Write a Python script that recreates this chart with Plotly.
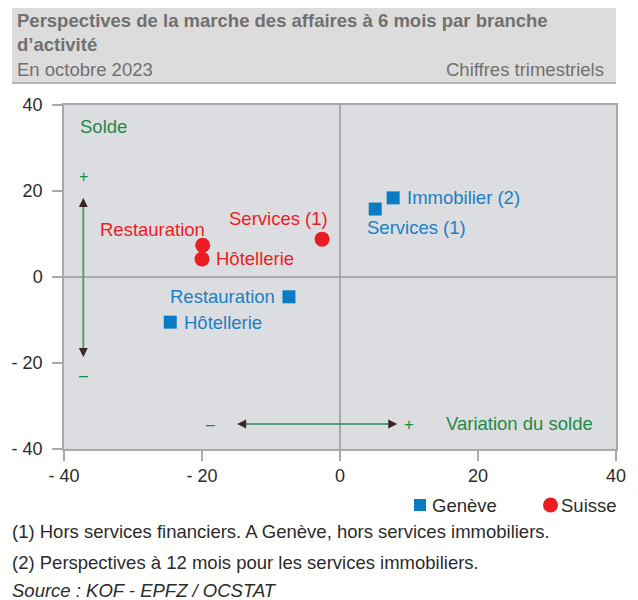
import plotly.graph_objects as go

# ---- data ----
geneve_labels = ["Immobilier (2)", "Services (1)", "Restauration", "Hôtellerie"]
geneve_x = [7.7, 5.1, -7.4, -24.6]
geneve_y = [18.4, 15.8, -4.6, -10.5]

suisse_labels = ["Restauration", "Hôtellerie", "Services (1)"]
suisse_x = [-19.9, -20.0, -2.6]
suisse_y = [7.4, 4.2, 8.8]

tick_vals = [-40, -20, 0, 20, 40]
tick_text = ["- 40", "- 20", "0", "20", "40"]

title_text = "Perspectives de la marche des affaires à 6 mois par branche<br>d’activité"
subtitle_left = "En octobre 2023"
subtitle_right = "Chiffres trimestriels"
footnotes = [
    "(1) Hors services financiers. A Genève, hors services immobiliers.",
    "(2) Perspectives à 12 mois pour les services immobiliers.",
    "<i>Source : KOF - EPFZ / OCSTAT</i>",
]

# ---- styles ----
FONT = "Liberation Sans, Arial, sans-serif"
BLUE = "#0b7cc4"
BLUE_TXT = "#1a80c6"
RED = "#ec1c24"
GREEN = "#1d8a48"
GRAY_TXT = "#707070"
BG = "#dcdde0"
FS = 18.5

# the page body has an 8px margin: figure is sized so the window shows it like the reference
OFF = 8
W, H = 630, 592
L, T = 56, 97
R, B = W - 608, H - 441
PW, PH = W - L - R, H - T - B


def px_x(px):  # window pixel -> paper x
    return (px - OFF - L) / PW


def px_y(py):  # window pixel -> paper y
    return (H - B - (py - OFF)) / PH


fig = go.Figure()
fig.add_trace(go.Scatter(
    x=geneve_x, y=geneve_y, mode="markers", name="Genève",
    marker=dict(symbol="square", size=13, color=BLUE),
    hoverinfo="skip",
))
fig.add_trace(go.Scatter(
    x=suisse_x, y=suisse_y, mode="markers", name="Suisse",
    marker=dict(symbol="circle", size=15, color=RED),
    hoverinfo="skip",
))

annotations = []
g_pos = {
    "Immobilier (2)": ("left", 12, 0),
    "Services (1)": ("left", -10, -18),
    "Restauration": ("right", -12, 0),
    "Hôtellerie": ("left", 12, 0),
}
s_pos = {
    "Restauration": ("right", 4, 16),
    "Hôtellerie": ("left", 12, 0),
    "Services (1)": ("right", 8, 21),
}
for lab, x, y in zip(geneve_labels, geneve_x, geneve_y):
    a, xs, ys = g_pos[lab]
    annotations.append(dict(x=x, y=y, text=lab, showarrow=False, xanchor=a,
                            yanchor="middle", xshift=xs, yshift=ys,
                            font=dict(size=FS, color=BLUE_TXT, family=FONT)))
for lab, x, y in zip(suisse_labels, suisse_x, suisse_y):
    a, xs, ys = s_pos[lab]
    annotations.append(dict(x=x, y=y, text=lab, showarrow=False, xanchor=a,
                            yanchor="middle", xshift=xs, yshift=ys,
                            font=dict(size=FS, color=RED, family=FONT)))

annotations += [
    dict(x=-37.9, y=34.9, text="Solde", showarrow=False, xanchor="left", yanchor="middle",
         font=dict(size=FS, color=GREEN, family=FONT)),
    dict(x=-37.2, y=23.3, text="+", showarrow=False, xanchor="center", yanchor="middle",
         font=dict(size=16, color=GREEN, family=FONT)),
    dict(x=-37.2, y=-22.8, text="–", showarrow=False, xanchor="center", yanchor="middle",
         font=dict(size=16, color=GREEN, family=FONT)),
    dict(x=-18.8, y=-34.2, text="–", showarrow=False, xanchor="center", yanchor="middle",
         font=dict(size=16, color=GREEN, family=FONT)),
    dict(x=10.0, y=-34.2, text="+", showarrow=False, xanchor="center", yanchor="middle",
         font=dict(size=17, color=GREEN, family=FONT)),
    dict(x=15.0, y=-34.0, text="Variation du solde", showarrow=False, xanchor="left",
         yanchor="middle", font=dict(size=FS, color=GREEN, family=FONT)),
]

HEAD = "#3b2626"
for (x, y, ax, ay) in [(-37.2, 18.4, 0, 4), (-37.2, -18.6, 0, -4),
                       (-14.9, -34.2, 4, 0), (8.3, -34.2, -4, 0)]:
    annotations.append(dict(x=x, y=y, ax=ax, ay=ay, axref="pixel", ayref="pixel",
                            showarrow=True, arrowhead=2, arrowsize=1.2, arrowwidth=1.5,
                            arrowcolor=HEAD, text=""))

# header texts
annotations += [
    dict(xref="paper", yref="paper", x=px_x(15), y=px_y(8), text="<b>" + title_text + "</b>",
         showarrow=False, xanchor="left", yanchor="top", align="left",
         font=dict(size=FS, color=GRAY_TXT, family=FONT)),
    dict(xref="paper", yref="paper", x=px_x(15), y=px_y(69), text=subtitle_left,
         showarrow=False, xanchor="left", yanchor="middle",
         font=dict(size=FS, color=GRAY_TXT, family=FONT)),
    dict(xref="paper", yref="paper", x=px_x(606), y=px_y(69), text=subtitle_right,
         showarrow=False, xanchor="right", yanchor="middle",
         font=dict(size=FS, color=GRAY_TXT, family=FONT)),
]
for txt, py in zip(footnotes, [531, 562, 590]):
    annotations.append(dict(xref="paper", yref="paper", x=px_x(10), y=px_y(py), text=txt,
                            showarrow=False, xanchor="left", yanchor="middle",
                            font=dict(size=FS, color="#2b2b2b", family=FONT)))

# legend (drawn by hand to match spacing)
annotations += [
    dict(xref="paper", yref="paper", x=px_x(430), y=px_y(505), text="Genève",
         showarrow=False, xanchor="left", yanchor="middle",
         font=dict(size=FS, color="#2b2b2b", family=FONT)),
    dict(xref="paper", yref="paper", x=px_x(559), y=px_y(505), text="Suisse",
         showarrow=False, xanchor="left", yanchor="middle",
         font=dict(size=FS, color="#2b2b2b", family=FONT)),
]

shapes = [
    dict(type="rect", xref="paper", yref="paper", x0=px_x(12), x1=px_x(616),
         y0=px_y(83), y1=px_y(7), fillcolor="#dcdcdc", line=dict(width=0), layer="below"),
    dict(type="line", xref="paper", yref="paper", x0=px_x(12), x1=px_x(616),
         y0=px_y(7), y1=px_y(7), line=dict(color="#a6a6a6", width=1.5)),
    dict(type="line", xref="paper", yref="paper", x0=px_x(12), x1=px_x(616),
         y0=px_y(83), y1=px_y(83), line=dict(color="#a6a6a6", width=1.5)),
    dict(type="line", x0=-37.2, x1=-37.2, y0=18.0, y1=-18.2,
         line=dict(color="#5a9e72", width=2)),
    dict(type="line", x0=-14.5, x1=7.9, y0=-34.2, y1=-34.2,
         line=dict(color="#2a8a50", width=1.5)),
    # legend symbols
    dict(type="rect", xref="paper", yref="paper", x0=px_x(414), x1=px_x(426),
         y0=px_y(511), y1=px_y(499), fillcolor=BLUE, line=dict(width=0)),
    dict(type="circle", xref="paper", yref="paper", x0=px_x(543), x1=px_x(558),
         y0=px_y(512.5), y1=px_y(497.5), fillcolor=RED, line=dict(width=0)),
]

fig.update_layout(
    width=W, height=H,
    margin=dict(l=L, r=R, t=T, b=B),
    paper_bgcolor="white", plot_bgcolor=BG,
    font=dict(family=FONT, size=FS, color="#2b2b2b"),
    showlegend=False,
    annotations=annotations, shapes=shapes,
)
axis_style = dict(range=[-40, 40], tickvals=tick_vals, ticktext=tick_text,
                  showgrid=False, zeroline=True, zerolinecolor="#a9a9a9", zerolinewidth=1.5,
                  showline=True, mirror=True, linecolor="#a9a9a9", linewidth=1.5,
                  ticks="outside", ticklen=10, tickcolor="#a9a9a9", tickwidth=1.5,
                  automargin=False,
                  tickfont=dict(size=18, color="#2b2b2b", family=FONT), fixedrange=True)
fig.update_xaxes(**axis_style)
fig.update_yaxes(**axis_style, ticklabelstandoff=6)

fig.write_html("out.html", config={"displayModeBar": False})
